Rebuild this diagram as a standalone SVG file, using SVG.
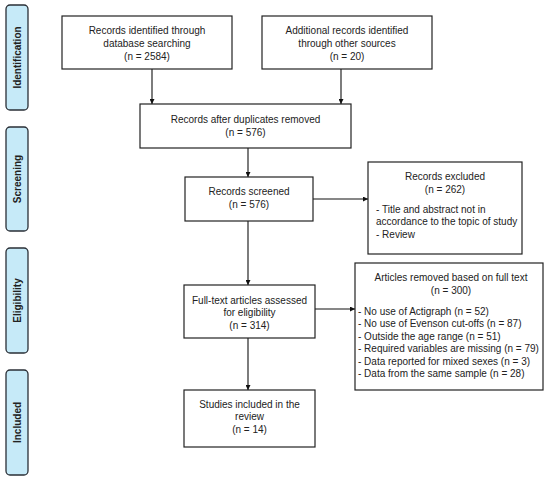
<svg xmlns="http://www.w3.org/2000/svg" width="550" height="479" viewBox="0 0 550 479">
<defs>
<marker id="ah" viewBox="0 0 10 10" refX="10" refY="5" markerWidth="5" markerHeight="5" orient="auto" markerUnits="userSpaceOnUse">
<path d="M0,0 L10,5 L0,10 z" fill="#111"/>
</marker>
</defs>
<style>
.box{fill:#fff;stroke:#222;stroke-width:1.2}
.side{fill:#c6eaf8;stroke:#2a2f36;stroke-width:1.3}
.t{font-family:"Liberation Sans",Arial,sans-serif;font-size:10px;fill:#222}
.c{text-anchor:middle}
.s{font-family:"Liberation Sans",Arial,sans-serif;font-size:10px;font-weight:bold;fill:#222;text-anchor:middle}
.ln{stroke:#111;stroke-width:1.1;fill:none;marker-end:url(#ah)}
</style>
<rect width="550" height="479" fill="#fff"/>
<g id="phase-identification"><rect class="side" x="6" y="5" width="22" height="105" rx="4"/><text class="s" transform="translate(20.5,57.5) rotate(-90)">Identification</text></g>
<g id="phase-screening"><rect class="side" x="6" y="127" width="22" height="104" rx="4"/><text class="s" transform="translate(20.5,179) rotate(-90)">Screening</text></g>
<g id="phase-eligibility"><rect class="side" x="6" y="248" width="22" height="105" rx="4"/><text class="s" transform="translate(20.5,300.5) rotate(-90)">Eligibility</text></g>
<g id="phase-included"><rect class="side" x="6" y="370" width="22" height="105" rx="4"/><text class="s" transform="translate(20.5,422.5) rotate(-90)">Included</text></g>

<g id="connectors">
<line class="ln" x1="152" y1="69" x2="152" y2="104"/>
<line class="ln" x1="341" y1="69" x2="341" y2="104"/>
<line class="ln" x1="248" y1="148" x2="248" y2="177"/>
<line class="ln" x1="313" y1="199" x2="368" y2="199"/>
<line class="ln" x1="248" y1="221" x2="248" y2="285"/>
<line class="ln" x1="315" y1="309" x2="355" y2="309"/>
<line class="ln" x1="248" y1="338" x2="248" y2="390"/>
</g>

<g id="box-database"><rect class="box" x="62" y="16" width="170" height="53"/>
<text class="t c" x="147" y="33.5">Records identified through</text>
<text class="t c" x="147" y="46.5">database searching</text>
<text class="t c" x="147" y="59.5">(n = 2584)</text></g>

<g id="box-other"><rect class="box" x="262" y="16" width="170" height="53"/>
<text class="t c" x="347" y="33.5">Additional records identified</text>
<text class="t c" x="347" y="46.5">through other sources</text>
<text class="t c" x="347" y="59.5">(n = 20)</text></g>

<g id="box-duplicates"><rect class="box" x="140" y="104" width="211" height="44"/>
<text class="t c" x="245.5" y="122.5">Records after duplicates removed</text>
<text class="t c" x="245.5" y="135.5">(n = 576)</text></g>

<g id="box-screened"><rect class="box" x="185" y="177" width="128" height="44"/>
<text class="t c" x="249" y="194.5">Records screened</text>
<text class="t c" x="249" y="207.5">(n = 576)</text></g>

<g id="box-excluded"><rect class="box" x="368" y="162" width="154" height="92"/>
<text class="t c" x="445" y="179.5">Records excluded</text>
<text class="t c" x="445" y="192.5">(n = 262)</text>
<text class="t" x="376" y="212.5">- Title and abstract not in</text>
<text class="t" x="376" y="225">accordance to the topic of study</text>
<text class="t" x="376" y="237.5">- Review</text></g>

<g id="box-fulltext"><rect class="box" x="184" y="285" width="131" height="53"/>
<text class="t c" x="249.5" y="303.5">Full-text articles assessed</text>
<text class="t c" x="249.5" y="316">for eligibility</text>
<text class="t c" x="249.5" y="328.5">(n = 314)</text></g>

<g id="box-removed"><rect class="box" x="355" y="263" width="188" height="127"/>
<text class="t c" x="451" y="280.5">Articles removed based on full text</text>
<text class="t c" x="451" y="293.5">(n = 300)</text>
<text class="t" x="358" y="314.5">- No use of Actigraph (n = 52)</text>
<text class="t" x="358" y="327">- No use of Evenson cut-offs (n = 87)</text>
<text class="t" x="358" y="339.5">- Outside the age range (n = 51)</text>
<text class="t" x="358" y="352">- Required variables are missing (n = 79)</text>
<text class="t" x="358" y="364.5">- Data reported for mixed sexes (n = 3)</text>
<text class="t" x="358" y="377">- Data from the same sample (n = 28)</text></g>

<g id="box-included"><rect class="box" x="184" y="390" width="131" height="57"/>
<text class="t c" x="249.5" y="407.5">Studies included in the</text>
<text class="t c" x="249.5" y="420">review</text>
<text class="t c" x="249.5" y="432.5">(n = 14)</text></g>
</svg>
